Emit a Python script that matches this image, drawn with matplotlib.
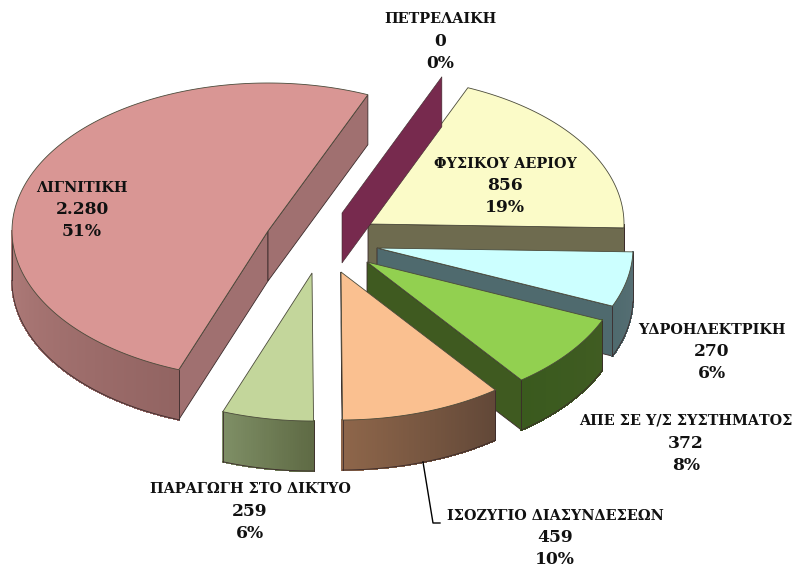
import numpy as np
import matplotlib
matplotlib.use("Agg")
import matplotlib.pyplot as plt
from matplotlib.colors import LinearSegmentedColormap
from matplotlib.patches import Polygon

# ---- data (anticlockwise from the right-hand edge) ----
categories = ["ΦΥΣΙΚΟΥ ΑΕΡΙΟΥ", "ΠΕΤΡΕΛΑΙΚΗ", "ΛΙΓΝΙΤΙΚΗ", "ΠΑΡΑΓΩΓΗ ΣΤΟ ΔΙΚΤΥΟ",
              "ΙΣΟΖΥΓΙΟ ΔΙΑΣΥΝΔΕΣΕΩΝ", "ΑΠΕ ΣΕ Υ/Σ ΣΥΣΤΗΜΑΤΟΣ", "ΥΔΡΟΗΛΕΚΤΡΙΚΗ"]
values = [856, 0, 2280, 259, 459, 372, 270]
value_labels = ["856", "0", "2.280", "259", "459", "372", "270"]
percent_labels = ["19%", "0%", "51%", "6%", "10%", "8%", "6%"]

# ---- layout and style ----
START = -1.5
RX, RY, DEPTH = 256, 148, 50
apex = [(368, 224), (342, 213), (268, 231), (312, 273), (341, 272), (367, 262), (377, 248)]
top_col = ["#FBFBC8", "#772A4E", "#D99694", "#C3D69B", "#FAC090", "#92D050", "#CCFFFF"]
cut_col = ["#6E6B4F", "#772A4E", "#A07070", "#5F6B45", "#64493A", "#3F5A20", "#4F6A6E"]
side_a = ["#6E6B4F", "#772A4E", "#B07C7A", "#7F8F66", "#8E664A", "#3A5A1E", "#4F6A6E"]
side_b = ["#6E6B4F", "#772A4E", "#926462", "#5F6B45", "#624838", "#405C22", "#566F74"]
label_pos = [(505, 186), (440, 41), (82, 210), (250, 511), (555, 538), (686, 443), (712, 352)]
edge = "#3a2a2a"
draw_order = [2, 0, 1, 6, 5, 3, 4]
FONT = ["DejaVu Serif", "Liberation Serif"]
LINE_GAP = 22

fig = plt.figure(figsize=(8.04, 5.68), dpi=100)
ax = fig.add_axes([0, 0, 1, 1])
ax.set_xlim(0, 804)
ax.set_ylim(568, 0)
ax.axis("off")

vals = np.array(values, dtype=float)
bounds = START + np.concatenate([[0], np.cumsum(vals)]) / vals.sum() * 360


def rim(c, deg):
    t = np.radians(deg)
    return np.column_stack([c[0] + RX * np.cos(t), c[1] - RY * np.sin(t)])


def quad(p, q, color, z, lw=0.6):
    pts = [p, q, (q[0], q[1] + DEPTH), (p[0], p[1] + DEPTH)]
    ax.add_patch(Polygon(pts, closed=True, fc=color, ec=edge, lw=lw, zorder=z))


for order, i in enumerate(draw_order):
    t1, t2 = bounds[i], bounds[i + 1]
    c = apex[i]
    z = 2 + order * 0.1
    if t1 == t2:
        q = rim(c, [t1])[0]
        quad(c, q, cut_col[i], z + 0.01, lw=0.4)
        continue
    if np.cos(np.radians(t2)) < 0:
        quad(c, rim(c, [t2])[0], cut_col[i], z + 0.01)
    if np.cos(np.radians(t1)) > 0:
        quad(c, rim(c, [t1])[0], cut_col[i], z + 0.015)
    th = np.linspace(t1, t2, int(max(t2 - t1, 4) * 2) + 2)
    pts = rim(c, th)
    cmap = LinearSegmentedColormap.from_list("s", [side_a[i], side_b[i]])
    visible = np.sin(np.radians((th[:-1] + th[1:]) / 2)) < 0
    idx = np.where(visible)[0]
    for n, k in enumerate(idx):
        col = cmap(n / max(len(idx) - 1, 1))
        p, q = pts[k], pts[k + 1]
        ax.add_patch(Polygon([p, q, (q[0], q[1] + DEPTH), (p[0], p[1] + DEPTH)],
                             closed=True, fc=col, ec=col, lw=0.8, antialiased=False,
                             zorder=z + 0.02))
    if len(idx):
        lo = pts[idx[0]:idx[-1] + 2]
        ax.plot(lo[:, 0], lo[:, 1] + DEPTH, color=edge, lw=0.6, zorder=z + 0.03)
        for e in (lo[0], lo[-1]):
            ax.plot([e[0], e[0]], [e[1], e[1] + DEPTH], color=edge, lw=0.6, zorder=z + 0.03)
    poly = np.vstack([[c], pts])
    ax.add_patch(Polygon(poly, closed=True, fc=top_col[i], ec="#4a4a3a", lw=0.6, zorder=z + 0.05))

ax.plot([423, 433, 440], [462, 523, 523], color="black", lw=1.0, zorder=8)

for i, name in enumerate(categories):
    x, y = label_pos[i]
    kw = dict(ha="center", va="center", fontweight="bold", family=FONT, color="#111111", zorder=10)
    ax.text(x, y - LINE_GAP, name, fontsize=10.4, **kw)
    ax.text(x, y, value_labels[i], fontsize=12.3, **kw)
    ax.text(x, y + LINE_GAP, percent_labels[i], fontsize=12.3, **kw)

fig.savefig("out.png", dpi=100)
